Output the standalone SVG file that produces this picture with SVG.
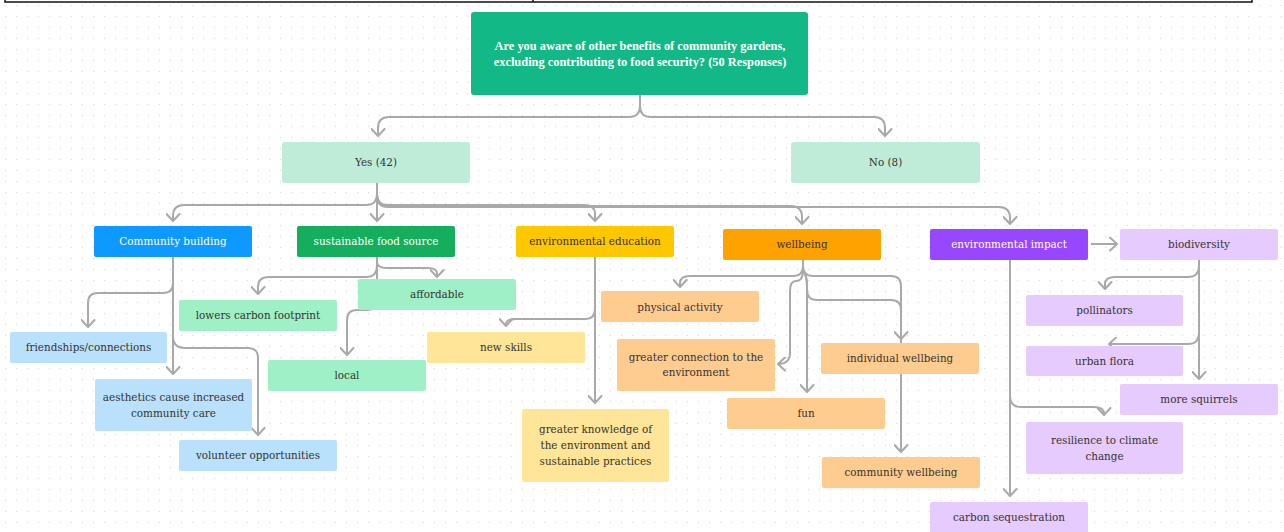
<svg xmlns="http://www.w3.org/2000/svg" width="1284" height="532" viewBox="0 0 1284 532">
<defs>
<pattern id="dots" width="11" height="11" patternUnits="userSpaceOnUse">
<circle cx="5.5" cy="5.5" r="0.7" fill="#dadada"/>
</pattern>
<marker id="arr" viewBox="0 0 9 15" refX="8" refY="7.5" markerWidth="9" markerHeight="15" markerUnits="userSpaceOnUse" orient="auto">
<path d="M1,1 L8,7.5 L1,14" fill="none" stroke="#a9a9a9" stroke-width="2" stroke-linecap="round" stroke-linejoin="round"/>
</marker>
<style>
.c { fill: none; stroke: #a9a9a9; stroke-width: 2; marker-end: url(#arr); }
.lbl { font-family: "DejaVu Serif", "Liberation Serif", serif; font-size: 10.4px; text-anchor: middle; fill: #36332f; }
.w { fill: #ffffff; }
.title { font-family: "Liberation Serif", "DejaVu Serif", serif; font-weight: bold; font-size: 12.4px; text-anchor: middle; fill: #ffffff; }
.cb { fill: #0d99ff; }
.sf { fill: #14ae5c; }
.ee { fill: #ffc700; }
.wb { fill: #ffa200; }
.ei { fill: #9747ff; }
.lb { fill: #bae1fb; }
.lg { fill: #9ff0c6; }
.ly { fill: #ffe597; }
.lo { fill: #ffcc90; }
.lp { fill: #e6cbff; }
.yn { fill: #bfecd8; }
</style>
</defs>
<rect width="1284" height="532" fill="#ffffff"/>
<rect width="1284" height="532" fill="url(#dots)"/>
<g id="frame" stroke="#111" stroke-width="1.5" fill="none">
<path d="M5,0 V2 H1252 V0"/>
<path d="M533,0 V2"/>
</g>

<g id="connectors">
<path class="c" d="M640,95 V106 Q640,117 629,117 H389 Q378,117 378,128 V136"/>
<path class="c" d="M640,95 V106 Q640,117 651,117 H874 Q885,117 885,128 V136"/>
<path class="c" d="M377,183 V194 Q377,205 366,205 H184 Q173,205 173,216 V221"/>
<path class="c" d="M377,183 V221"/>
<path class="c" d="M377,183 V194 Q377,205 388,205 H584 Q595,205 595,214 V221"/>
<path class="c" d="M377,183 V195 Q377,206 388,206 H791 Q802,206 802,217 V224"/>
<path class="c" d="M377,183 V196 Q377,207 388,207 H999 Q1010,207 1010,218 V224"/>

<path class="c" d="M173,257 V283 Q173,293 163,293 H98 Q88,293 88,303 V327"/>
<path class="c" d="M173,257 V374"/>
<path class="c" d="M173,257 V336 Q173,348 185,348 H248 Q258,348 258,358 V435"/>

<path class="c" d="M377,257 V266 Q377,277 366,277 H269 Q258,277 258,287 V294"/>
<path class="c" d="M377,257 V262 Q377,268 387,268 H427 Q437,268 437,273 V277"/>
<path class="c" d="M377,257 V300 Q377,310 367,310 H357 Q347,310 347,320 V355"/>

<path class="c" d="M595,257 V403"/>
<path class="c" d="M595,257 V309 Q595,319 585,319 H516 Q506,319 506,324 V326"/>

<path class="c" d="M803,260 V266 Q803,276 793,276 H690 Q680,276 680,283 V287"/>
<path class="c" d="M803,260 V266 Q803,276 813,276 H891 Q901,276 901,286 V339"/>
<path class="c" d="M803,260 V270 Q803,281 796,281 Q790,281 790,291 V353 Q790,364 778,364"/>
<path class="c" d="M803,260 V270 Q807,276 807,286 V392"/>
<path class="c" d="M803,260 V270 Q807,276 807,286 V290 Q807,300 817,300 H891 Q901,300 901,310 V452"/>

<path class="c" d="M1010,260 V496"/>
<path class="c" d="M1010,260 V396 Q1010,407 1021,407 H1094 Q1104,407 1104,414 V415"/>
<path class="c" d="M1091,244 H1117"/>

<path class="c" d="M1199,260 V266 Q1199,277 1188,277 H1115 Q1105,277 1105,284 V289"/>
<path class="c" d="M1199,260 V333 Q1199,344 1188,344 H1109"/>
<path class="c" d="M1199,260 V379"/>
</g>

<g id="n-title"><rect x="471" y="12" width="337" height="83" rx="3" fill="#12b886"/>
<text class="title" x="640" y="50">Are you aware of other benefits of community gardens,</text>
<text class="title" x="640" y="66">excluding contributing to food security? (50 Responses)</text></g>

<g id="n-yes"><rect class="yn" x="282" y="142" width="188" height="41" rx="3"/><text class="lbl" x="376" y="166">Yes (42)</text></g>
<g id="n-no"><rect class="yn" x="791" y="142" width="189" height="41" rx="3"/><text class="lbl" x="885.5" y="166">No (8)</text></g>

<g id="n-community"><rect class="cb" x="94" y="226" width="158" height="31" rx="2"/><text class="lbl w" x="173" y="245">Community building</text></g>
<g id="n-sustainable"><rect class="sf" x="297" y="226" width="158" height="31" rx="2"/><text class="lbl w" x="376" y="245">sustainable food source</text></g>
<g id="n-enved"><rect class="ee" x="516" y="226" width="158" height="31" rx="2"/><text class="lbl" x="595" y="245">environmental education</text></g>
<g id="n-wellbeing"><rect class="wb" x="723" y="229" width="158" height="31" rx="2"/><text class="lbl" x="802" y="248">wellbeing</text></g>
<g id="n-envimpact"><rect class="ei" x="930" y="229" width="158" height="31" rx="2"/><text class="lbl w" x="1009" y="248">environmental impact</text></g>
<g id="n-biodiversity"><rect class="lp" x="1120" y="229" width="158" height="31" rx="2"/><text class="lbl" x="1199" y="248">biodiversity</text></g>

<g id="n-friendships"><rect class="lb" x="10" y="332" width="157" height="31" rx="2"/><text class="lbl" x="88.5" y="351">friendships/connections</text></g>
<g id="n-aesthetics"><rect class="lb" x="95" y="379" width="157" height="52" rx="2"/><text class="lbl" x="173.5" y="401">aesthetics cause increased</text><text class="lbl" x="173.5" y="417">community care</text></g>
<g id="n-volunteer"><rect class="lb" x="179" y="440" width="158" height="31" rx="2"/><text class="lbl" x="258" y="459">volunteer opportunities</text></g>

<g id="n-lowers"><rect class="lg" x="179" y="300" width="158" height="31" rx="2"/><text class="lbl" x="258" y="319">lowers carbon footprint</text></g>
<g id="n-affordable"><rect class="lg" x="358" y="279" width="158" height="31" rx="2"/><text class="lbl" x="437" y="298">affordable</text></g>
<g id="n-local"><rect class="lg" x="268" y="360" width="158" height="31" rx="2"/><text class="lbl" x="347" y="379">local</text></g>

<g id="n-newskills"><rect class="ly" x="427" y="332" width="158" height="31" rx="2"/><text class="lbl" x="506" y="351">new skills</text></g>
<g id="n-knowledge"><rect class="ly" x="522" y="409" width="147" height="73" rx="2"/><text class="lbl" x="595.5" y="433">greater knowledge of</text><text class="lbl" x="595.5" y="449">the environment and</text><text class="lbl" x="595.5" y="465">sustainable practices</text></g>

<g id="n-physical"><rect class="lo" x="601" y="291" width="158" height="31" rx="2"/><text class="lbl" x="680" y="311">physical activity</text></g>
<g id="n-connection"><rect class="lo" x="617" y="339" width="158" height="52" rx="2"/><text class="lbl" x="696" y="361">greater connection to the</text><text class="lbl" x="696" y="376">environment</text></g>
<g id="n-fun"><rect class="lo" x="727" y="398" width="158" height="31" rx="2"/><text class="lbl" x="806" y="417">fun</text></g>
<g id="n-individual"><rect class="lo" x="821" y="343" width="158" height="31" rx="2"/><text class="lbl" x="900" y="362">individual wellbeing</text></g>
<g id="n-commwell"><rect class="lo" x="822" y="457" width="158" height="31" rx="2"/><text class="lbl" x="901" y="476">community wellbeing</text></g>

<g id="n-pollinators"><rect class="lp" x="1026" y="295" width="157" height="31" rx="2"/><text class="lbl" x="1104.5" y="314">pollinators</text></g>
<g id="n-urbanflora"><rect class="lp" x="1026" y="346" width="157" height="30" rx="2"/><text class="lbl" x="1104.5" y="365">urban flora</text></g>
<g id="n-squirrels"><rect class="lp" x="1120" y="384" width="158" height="31" rx="2"/><text class="lbl" x="1199" y="403">more squirrels</text></g>
<g id="n-resilience"><rect class="lp" x="1026" y="422" width="157" height="52" rx="2"/><text class="lbl" x="1104.5" y="444">resilience to climate</text><text class="lbl" x="1104.5" y="460">change</text></g>
<g id="n-carbon"><rect class="lp" x="930" y="502" width="158" height="34" rx="2"/><text class="lbl" x="1009" y="521">carbon sequestration</text></g>
</svg>
